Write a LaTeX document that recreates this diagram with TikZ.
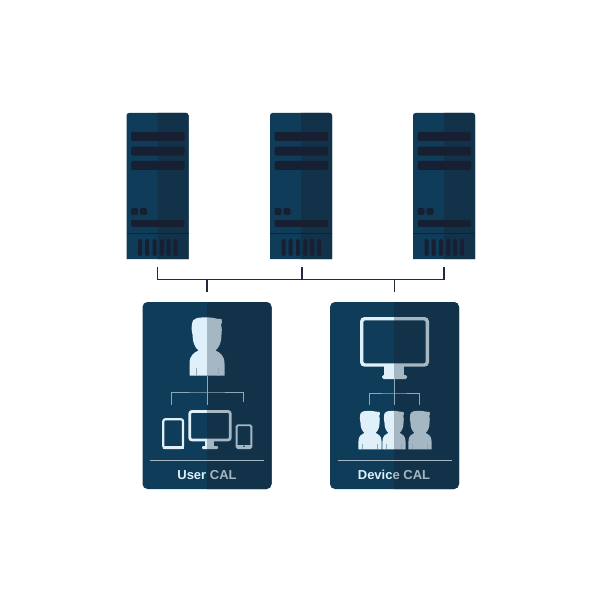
\documentclass[tikz,border=0pt]{standalone}
\usepackage{fontspec}
\setmainfont{Liberation Sans}
\definecolor{panelL}{HTML}{0F3C58}
\definecolor{panelR}{HTML}{123249}
\definecolor{barcol}{HTML}{171F33}
\definecolor{linecol}{HTML}{22293A}
\definecolor{iconL}{HTML}{DFF0FA}
\definecolor{iconR}{HTML}{A5B7C3}
\definecolor{wireL}{HTML}{8FA8B7}
\tikzset{
  bus/.style={draw=linecol, line width=1.5},
  wire/.style={draw=wireL, line width=1},
  rule/.style={draw=iconR, line width=0.9},
  bar/.style={fill=barcol, rounded corners=2},
  outl/.style={line width=2.2, rounded corners=2},
  caption/.style={font=\bfseries\fontsize{13}{15}\selectfont, inner sep=0, anchor=base},
}
% head and shoulders, top centre at the origin
\newcommand{\personpath}{
  (-10,0.5) .. controls (-4,-0.5) and (4,-0.5) .. (9,1)
  .. controls (11,1.5) and (13,1.5) .. (14.5,1.5)
  .. controls (15.5,3.5) and (15,6) .. (14,7.5)
  .. controls (15,10) and (15,14) .. (14.5,17)
  .. controls (14.5,24) and (12.5,30) .. (8.5,33)
  .. controls (13,35) and (17.5,38) .. (17.5,46)
  -- (17.5,58) -- (-17.5,58) -- (-17.5,46)
  .. controls (-17.5,38) and (-13,35) .. (-8.5,33)
  .. controls (-12.5,30) and (-14.5,24) .. (-14.5,17)
  .. controls (-15.5,14) and (-15.5,10) .. (-15,6)
  .. controls (-15.5,3.5) and (-13,1.5) .. (-10,0.5) -- cycle
}
\newcommand{\serverunit}[2]{
  % #1 left edge, #2 name
  \node[minimum width=62, minimum height=146, inner sep=0] (#2) at (#1+31,186) {};
  \fill[panelL] (#1,259) [rounded corners=2.5] -- (#1,113) -- (#1+62,113) [sharp corners] -- (#1+62,259) -- cycle;
  \begin{scope}
    \clip (#1+31,100) rectangle (#1+70,270);
    \fill[panelR] (#1,259) [rounded corners=2.5] -- (#1,113) -- (#1+62,113) [sharp corners] -- (#1+62,259) -- cycle;
  \end{scope}
  \foreach \ty in {132,146.7,161}
    \fill[bar] (#1+4.5,\ty) rectangle (#1+58,\ty+9);
  \fill[bar] (#1+4.5,208) rectangle (#1+11.5,215);
  \fill[bar] (#1+13.5,208) rectangle (#1+20.5,215);
  \fill[bar] (#1+4.5,220) rectangle (#1+58,227);
  \fill[barcol] (#1,233) rectangle (#1+62,234.5);
  \foreach \tx in {11.5,18.7,26,33.3,40,47.2}
    \fill[bar] (#1+\tx,239) rectangle (#1+\tx+4,256);
}
\newcommand{\cardunit}[3]{
  % #1 left edge, #2 name, #3 middle
  \node[minimum width=129, minimum height=187, inner sep=0] (#2) at (#1+64.5,395.5) {};
  \fill[panelL, rounded corners=5] (#1,302) rectangle (#1+129,489);
  \begin{scope}
    \clip (#3,295) rectangle (#1+135,495);
    \fill[panelR, rounded corners=5] (#1,302) rectangle (#1+129,489);
  \end{scope}
  \draw[rule] (#1+7.5,460) -- (#1+121.5,460);
}
% same outline in both colours, each clipped to its side
\newcommand{\halves}[2]{
  \begin{scope}\clip (0,0) rectangle (#1,601); \tikzset{tone/.style={iconL}} #2 \end{scope}
  \begin{scope}\clip (#1,0) rectangle (601,601); \tikzset{tone/.style={iconR}} #2 \end{scope}
}
\newcommand{\personicon}[3]{
  % #1 centre, #2 top, #3 scale
  \fill[tone, shift={(#1,#2)}, scale=#3] \personpath;
  \draw[wireL, line width=0.6, shift={(#1,#2)}, scale=#3] (-11,50) -- (-11,58) (11,50) -- (11,58);
}
\begin{document}
\begin{tikzpicture}[x=1pt, y=-1pt]
\useasboundingbox (0,0) rectangle (601,601);
\fill[white] (0,0) rectangle (601,601);
\serverunit{126.5}{serverA}
\serverunit{270}{serverB}
\serverunit{413}{serverC}
\cardunit{142.5}{userCard}{207}
\cardunit{330}{deviceCard}{394}
% bus between servers and cards
\coordinate (busA) at ([yshift=-8]serverA.south);
\coordinate (busB) at ([xshift=1,yshift=-8]serverB.south);
\coordinate (busC) at ([yshift=-8]serverC.south);
\coordinate (busU) at ([yshift=10]userCard.north);
\coordinate (busD) at ([yshift=10]deviceCard.north);
\coordinate (busRow) at (300,279.5);
\draw[bus] (busA) -- (busA |- busRow) -- (busC |- busRow) -- (busC);
\draw[bus] (busB) -- (busB |- busRow);
\draw[bus] (busU) -- (busU |- busRow);
\draw[bus] (busD) -- (busD |- busRow);
% user card
\coordinate (userTop) at (207,376);
\coordinate (userDrop) at (207,405);
\coordinate (userLeft) at (171,405);
\coordinate (userRight) at (243,402);
\coordinate (userRow) at (207,392);
\draw[wire] (userTop) -- (userDrop);
\draw[wire] (userLeft) |- (userRow) -| (userRight);
\halves{207}{
  \personicon{207}{317.5}{1}
  % tablet
  \draw[tone, outl] (163.3,419.3) rectangle (183,448);
  \fill[tone] (163,446) rectangle (183.5,449);
  % monitor
  \draw[tone, line width=2.8, rounded corners=2.5] (189.7,411.4) rectangle (230.3,440);
  \fill[tone] (205,441) rectangle (214,447);
  \fill[tone, rounded corners=1] (202,446) rectangle (218,449);
  % phone
  \draw[tone, line width=1.9, rounded corners=1.5] (236.6,425.2) rectangle (251.4,448.2);
  \fill[tone] (237,444.5) rectangle (251,448);
}
\fill[panelR] (244,446.2) circle (0.9);
\node[caption] (userLabel) at (207,479.3) {\textcolor{iconL}{User} \textcolor{iconR}{CAL}};
% device card
\coordinate (devTop) at (394,379);
\coordinate (devDrop) at (394,405);
\coordinate (devLeft) at (369,405);
\coordinate (devRight) at (419,405);
\coordinate (devRow) at (394,393);
\draw[wire] (devTop) -- (devDrop);
\draw[wire] (devLeft) |- (devRow) -| (devRight);
\halves{394}{
  \draw[tone, line width=3.4, rounded corners=3] (361.7,318.7) rectangle (427.3,365);
  \fill[tone] (384,366) rectangle (404,375);
  \fill[tone, rounded corners=1.5] (382,375) rectangle (407,379);
  \personicon{370}{411}{0.66}
  \personicon{394}{411}{0.66}
  \personicon{420}{411}{0.66}
}
\node[caption] (deviceLabel) at (394,479.3) {\textcolor{iconL}{Devic}\textcolor{iconR}{e CAL}};
\end{tikzpicture}
\end{document}
